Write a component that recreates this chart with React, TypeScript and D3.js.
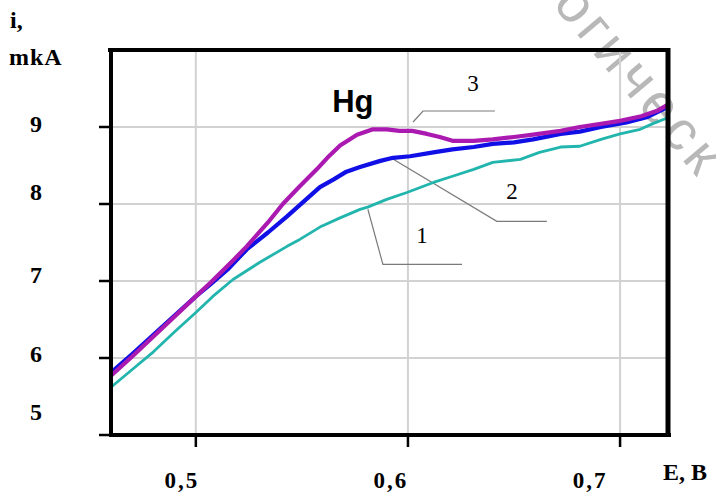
import React from 'react';
import * as d3 from 'd3';

// polarisation curves, E (V) vs i (mkA)
const curve1: [number, number][] = [
  [0.46, 5.62], [0.47, 5.85], [0.48, 6.08], [0.49, 6.34], [0.5, 6.59], [0.508, 6.8],
  [0.5175, 7.02], [0.53, 7.24], [0.543, 7.45], [0.549, 7.54], [0.5585, 7.7], [0.568, 7.82],
  [0.5774, 7.93], [0.581, 7.96], [0.59, 8.06], [0.5995, 8.15], [0.612, 8.28], [0.621, 8.36],
  [0.631, 8.45], [0.64, 8.54], [0.653, 8.58], [0.662, 8.67], [0.672, 8.74], [0.681, 8.75],
  [0.691, 8.84], [0.7, 8.91], [0.7095, 8.97], [0.716, 9.05], [0.7226, 9.12],
];

const curve2: [number, number][] = [
  [0.46, 5.81], [0.47, 6.05], [0.48, 6.3], [0.49, 6.55], [0.5, 6.8], [0.507, 6.96],
  [0.515, 7.15], [0.524, 7.41], [0.534, 7.63], [0.543, 7.84], [0.552, 8.06], [0.5585, 8.22],
  [0.565, 8.32], [0.571, 8.42], [0.5774, 8.48], [0.587, 8.56], [0.593, 8.6], [0.601, 8.62],
  [0.612, 8.67], [0.621, 8.71], [0.631, 8.74], [0.64, 8.78], [0.65, 8.8], [0.659, 8.84],
  [0.672, 8.91], [0.681, 8.94], [0.691, 9.0], [0.703, 9.06], [0.713, 9.13], [0.7226, 9.26],
];

const curve3: [number, number][] = [
  [0.46, 5.77], [0.47, 6.02], [0.48, 6.28], [0.49, 6.54], [0.5, 6.8], [0.507, 6.98],
  [0.518, 7.28], [0.524, 7.45], [0.534, 7.76], [0.541, 8.0], [0.549, 8.23], [0.557, 8.45],
  [0.562, 8.6], [0.568, 8.76], [0.576, 8.9], [0.5835, 8.97], [0.59, 8.97], [0.596, 8.95],
  [0.602, 8.95], [0.609, 8.91], [0.615, 8.87], [0.621, 8.82], [0.631, 8.82], [0.64, 8.84],
  [0.65, 8.87], [0.659, 8.9], [0.672, 8.95], [0.681, 9.0], [0.691, 9.04], [0.7, 9.08],
  [0.71, 9.14], [0.7175, 9.21], [0.7226, 9.29],
];

// leader lines from each curve to its number
const leader1: [number, number][] = [[0.5811, 7.932], [0.5882, 7.215], [0.6255, 7.215]];
const leader2: [number, number][] = [[0.5929, 8.583], [0.6419, 7.775], [0.6655, 7.775]];
const leader3: [number, number][] = [[0.6024, 9.065], [0.6071, 9.208], [0.641, 9.208]];

const curveNames = ['1', '2', '3'];
const curveNamePos: [number, number][] = [[0.6066, 7.5], [0.649, 8.06], [0.6307, 9.469]];

const xTicks = [0.5, 0.6, 0.7];
const xTickLabels = ['0,5', '0,6', '0,7'];
const yTicks = [5, 6, 7, 8, 9];
const yTickLabels = ['5', '6', '7', '8', '9'];
const yGrid = [6, 7, 8, 9];

// the scan's labels sit a bit off their ticks
const xLabelShift = [-14, -17, -30];
const yLabelShift = [-23, -4, -6, -12, -3];

const W = 716;
const H = 495;
const serif = '"Liberation Serif", "Times New Roman", serif';

export default function App() {
  const x = d3.scaleLinear().domain([0.46, 0.7226]).range([111, 668]);
  const y = d3.scaleLinear().domain([5, 10]).range([435, 50]);
  const line = d3.line<[number, number]>().x(d => x(d[0])).y(d => y(d[1]));

  const x0 = x.range()[0];
  const x1 = x.range()[1];
  const y0 = y.range()[0];
  const y1 = y.range()[1];

  return (
    <div style={{ position: 'fixed', left: 0, top: 0, width: W, height: H, background: '#fff' }}>
      <svg width={W} height={H} style={{ display: 'block' }}>
        {/* watermark (cut by the page edge, as in the scan) */}
        <text
          transform="translate(700,181) rotate(50)"
          textAnchor="end"
          fontFamily='"Liberation Sans", Arial, sans-serif'
          fontSize={56}
          letterSpacing={5}
          fill="#b8b8b8"
        >
          логическ
        </text>

        {/* grid */}
        {xTicks.map(t => (
          <line key={'gx' + t} x1={x(t)} x2={x(t)} y1={y1} y2={y0} stroke="#d2d2d2" strokeWidth={2} />
        ))}
        {yGrid.map(t => (
          <line key={'gy' + t} x1={x0} x2={x1} y1={y(t)} y2={y(t)} stroke="#d2d2d2" strokeWidth={2} />
        ))}

        {/* leaders */}
        {[leader1, leader2, leader3].map((l, i) => (
          <path key={'ld' + i} d={line(l) || ''} fill="none" stroke="#7a7a7a" strokeWidth={1.2} />
        ))}

        {/* curves */}
        <path d={line(curve1) || ''} fill="none" stroke="#22b5ad" strokeWidth={2.8} strokeLinejoin="round" />
        <path d={line(curve2) || ''} fill="none" stroke="#1010e6" strokeWidth={4.2} strokeLinejoin="round" />
        <path d={line(curve3) || ''} fill="none" stroke="#ab1ab0" strokeWidth={4.2} strokeLinejoin="round" />

        {/* frame */}
        <line x1={x0 - 3} x2={x1 + 2} y1={y1} y2={y1} stroke="#000" strokeWidth={4} />
        <line x1={x0} x2={x0} y1={y1 - 2} y2={y0 + 2} stroke="#000" strokeWidth={4} />
        <line x1={x0 - 2} x2={x1 + 3} y1={y0} y2={y0} stroke="#000" strokeWidth={4} />
        <line x1={x1} x2={x1} y1={y1 - 2} y2={y0 + 2} stroke="#000" strokeWidth={5} />

        {/* ticks */}
        {yTicks.map(t => (
          <line key={'ty' + t} x1={x0 - 12} x2={x0} y1={y(t)} y2={y(t)} stroke="#000" strokeWidth={2.5} />
        ))}
        {xTicks.map(t => (
          <line key={'tx' + t} x1={x(t)} x2={x(t)} y1={y0} y2={y0 + 12} stroke="#000" strokeWidth={2.5} />
        ))}

        {/* tick labels */}
        <g fontFamily={serif} fontWeight="bold" fill="#000">
          {yTicks.map((t, i) => (
            <text key={'ly' + t} x={36} y={y(t) + yLabelShift[i]} fontSize={24} textAnchor="middle"
              dominantBaseline="central">
              {yTickLabels[i]}
            </text>
          ))}
          {xTicks.map((t, i) => (
            <text key={'lx' + t} x={x(t) + xLabelShift[i]} y={488} fontSize={23} textAnchor="middle"
              letterSpacing={2}>
              {xTickLabels[i]}
            </text>
          ))}
        </g>

        {/* axis titles */}
        <g fontFamily={serif} fontWeight="bold" fontSize={24} fill="#000">
          <text x={10} y={28}>i,</text>
          <text x={9} y={65} letterSpacing={1}>mkA</text>
          <text x={663} y={480}>E, B</text>
        </g>

        {/* element and curve numbers */}
        <text x={x(0.574)} y={y(9.195)} textAnchor="middle" fontFamily='"Liberation Sans", Arial, sans-serif'
          fontWeight="bold" fontSize={31} fill="#000">
          Hg
        </text>
        {curveNames.map((n, i) => (
          <text key={'cn' + n} x={x(curveNamePos[i][0])} y={y(curveNamePos[i][1])} textAnchor="middle"
            fontFamily={serif} fontSize={23} fill="#000">
            {n}
          </text>
        ))}
      </svg>
    </div>
  );
}
